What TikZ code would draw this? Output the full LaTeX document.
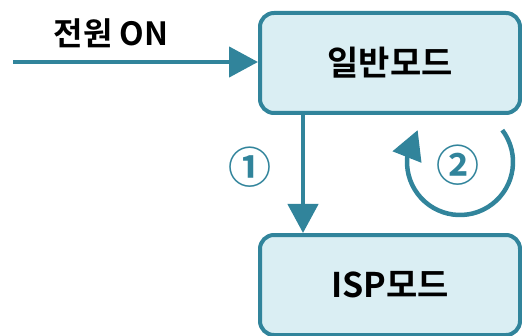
\documentclass[tikz,border=0pt]{standalone}
\usepackage{fontspec}
\setmainfont{Noto Sans CJK KR}[BoldFont={* Bold}]
\usetikzlibrary{arrows.meta,bending}
\definecolor{teal5}{HTML}{31849B}
\definecolor{aqua5}{HTML}{DAEEF3}

\begin{document}
\begin{tikzpicture}[x=1pt,y=1pt,
    modebox/.style={draw=teal5, fill=aqua5, line width=4pt, rounded corners=14pt,
      minimum width=260pt, minimum height=100pt, font=\fontsize{34}{34}\selectfont\bfseries},
    flow/.style={teal5, line width=4.5pt, -{Triangle[length=29pt,width=30pt]}},
    num/.style={teal5, font=\fontsize{43}{43}\selectfont\bfseries}]
  \useasboundingbox (0,0) rectangle (522,335);
  \clip (0,0) rectangle (522,335);

  \node[modebox] (normal) at (390,272) {일반모드};
  \node[modebox] (isp) at (390,50) {ISP모드};

  \coordinate (power) at (13,273);
  \coordinate (down) at (303,0);
  \node[font=\fontsize{32}{32}\selectfont\bfseries] (poweron) at (111,302) {전원 ON};

  \draw[flow] (power) -- (normal.west |- power);
  \draw[flow] (normal.south -| down) -- (isp.north -| down);

  \node[num] (one) at (250,168) {①};
  \node[num] (two) at (458,170) {②};

  % loop in normal mode
  \coordinate (loop) at (460,173);
  \draw[flow] ([shift={(37:53)}]loop) arc[start angle=37, end angle=-217, radius=53];

\end{tikzpicture}
\end{document}
